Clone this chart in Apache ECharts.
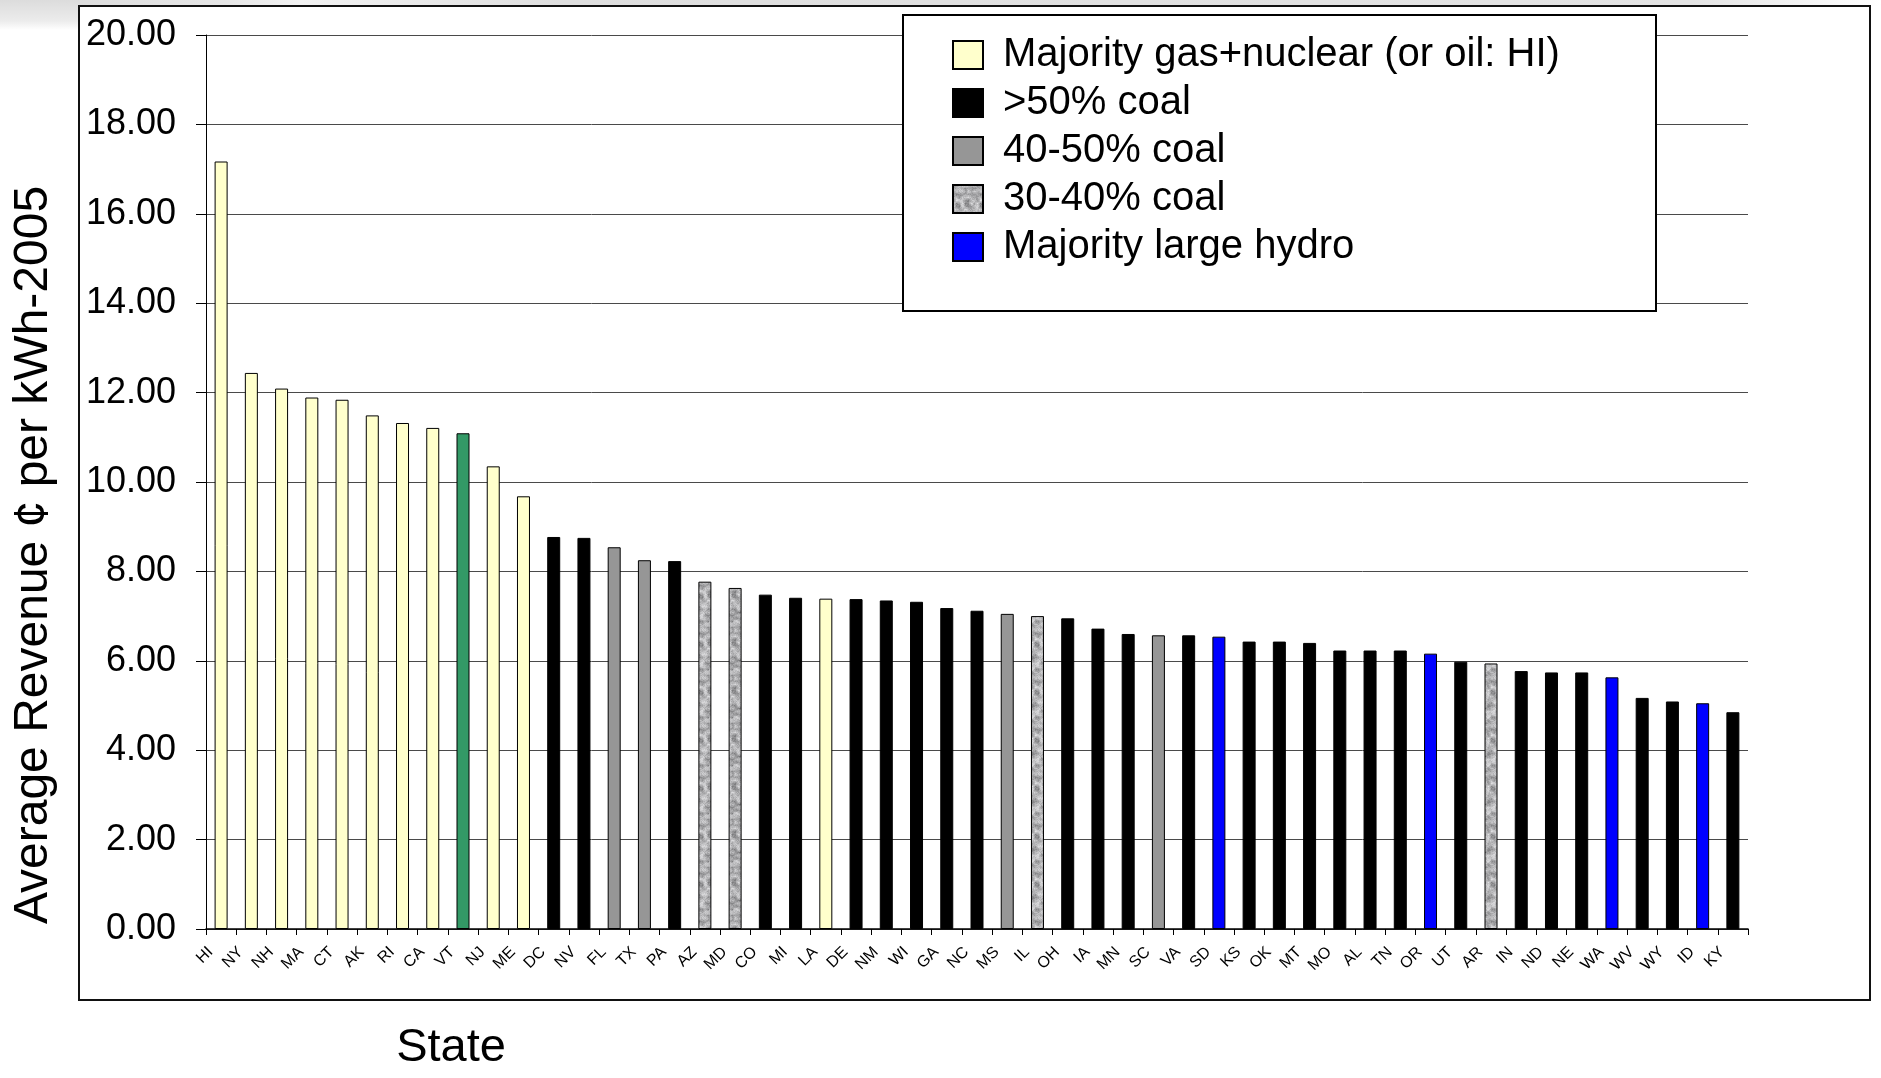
<!DOCTYPE html>
<html>
<head>
<meta charset="utf-8">
<title>Average Revenue by State</title>
<script src="https://cdn.jsdelivr.net/npm/echarts@6/dist/echarts.min.js"></script>
<style>
  html, body { margin: 0; padding: 0; background: #ffffff; }
  #chart { width: 1881px; height: 1078px; }
</style>
</head>
<body>
<div id="chart"></div>
<script>
// States, ordered by average revenue (cents per kWh, 2005)
const states = ['HI','NY','NH','MA','CT','AK','RI','CA','VT','NJ','ME','DC','NV','FL','TX','PA','AZ','MD','CO','MI','LA',
  'DE','NM','WI','GA','NC','MS','IL','OH','IA','MN','SC','VA','SD','KS','OK','MT','MO','AL','TN','OR',
  'UT','AR','IN','ND','NE','WA','WV','WY','ID','KY'];

const revenue = [17.17,12.44,12.09,11.89,11.84,11.49,11.32,11.21,11.09,10.35,9.68,
  8.77,8.75,8.54,8.25,8.23,7.77,7.63,7.48,7.41,7.39,
  7.38,7.35,7.32,7.18,7.12,7.05,7.00,6.95,6.72,6.60,
  6.57,6.57,6.54,6.43,6.43,6.40,6.23,6.23,6.23,6.16,
  5.98,5.94,5.77,5.74,5.74,5.63,5.17,5.09,5.05,4.85];

// Generation-mix class of each state
const mix = ['gas','gas','gas','gas','gas','gas','gas','gas','other','gas','gas',
  'coal50','coal50','coal40','coal40','coal50','coal30','coal30','coal50','coal50','gas',
  'coal50','coal50','coal50','coal50','coal50','coal40','coal30','coal50','coal50','coal50',
  'coal40','coal50','hydro','coal50','coal50','coal50','coal50','coal50','coal50','hydro',
  'coal50','coal30','coal50','coal50','coal50','hydro','coal50','coal50','hydro','coal50'];

// Legend classes
const mixKeys = ['gas','coal50','coal40','coal30','hydro','other'];
const mixNames = ['Majority gas+nuclear (or oil: HI)','>50% coal','40-50% coal','30-40% coal','Majority large hydro','Nuclear + hydro'];

// Value-axis tick labels
const yTicks = ['0.00','2.00','4.00','6.00','8.00','10.00','12.00','14.00','16.00','18.00','20.00'];

// Grey granite texture for the 30-40% coal bars
function hash(x, y) {
  let n = Math.imul(x, 374761393) + Math.imul(y, 668265263);
  n = Math.imul(n ^ (n >>> 13), 1274126177);
  return ((n ^ (n >>> 16)) >>> 0) / 4294967295;
}
function makeGranite() {
  const w = 24, h = 48, cell = 3;
  const c = document.createElement('canvas');
  c.width = w; c.height = h;
  const ctx = c.getContext('2d');
  const img = ctx.createImageData(w, h);
  const gw = w / cell, gh = h / cell;
  const coarse = (i, j) => hash(((i % gw) + gw) % gw, ((j % gh) + gh) % gh + 101);
  for (let y = 0; y < h; y++) {
    for (let x = 0; x < w; x++) {
      const fx = x / cell, fy = y / cell;
      const i = Math.floor(fx), j = Math.floor(fy);
      const tx = fx - i, ty = fy - j;
      const a = coarse(i, j), b = coarse(i + 1, j), cc = coarse(i, j + 1), d = coarse(i + 1, j + 1);
      const v = (a * (1 - tx) + b * tx) * (1 - ty) + (cc * (1 - tx) + d * tx) * ty;
      const f = hash(x, y);
      let g = 215 - 80 * Math.pow(v, 1.6) - 30 * f + 10;
      g = Math.max(90, Math.min(240, g));
      const k = (y * w + x) * 4;
      img.data[k] = g; img.data[k + 1] = g; img.data[k + 2] = g + 2; img.data[k + 3] = 255;
    }
  }
  ctx.putImageData(img, 0, 0);
  return c;
}

const fills = {
  gas: '#ffffcc',
  coal50: '#000000',
  coal40: '#969696',
  coal30: { image: makeGranite(), repeat: 'repeat' },
  hydro: '#0000ff',
  other: '#339966'
};

const series = mixKeys.map((key, idx) => ({
  name: mixNames[idx],
  type: 'bar',
  barWidth: 13,
  barGap: '-100%',
  data: revenue.map((v, i) => (mix[i] === key ? v : '-')),
  itemStyle: { color: fills[key], borderColor: '#000000', borderWidth: 1 },
  emphasis: { disabled: true },
  animation: false
}));

const chart = echarts.init(document.getElementById('chart'), null, { renderer: 'canvas' });
const fontFamily = '"Liberation Sans", Arial, Helvetica, sans-serif';

chart.setOption({
  animation: false,
  backgroundColor: '#ffffff',
  textStyle: { fontFamily: fontFamily, color: '#000' },
  graphic: [
    {
      type: 'rect', silent: true, z: -10,
      shape: { x: 0, y: 0, width: 1881, height: 6 },
      style: { fill: new echarts.graphic.LinearGradient(0, 0, 1, 0, [
        { offset: 0, color: '#d9d9d9' }, { offset: 0.12, color: '#e6e6e6' },
        { offset: 0.16, color: '#f2f2f2' }, { offset: 0.3, color: '#dedede' },
        { offset: 0.9, color: '#e4e4e4' }, { offset: 1, color: '#ffffff' }]) }
    },
    {
      type: 'rect', silent: true, z: -10,
      shape: { x: 0, y: 0, width: 79, height: 30 },
      style: { fill: new echarts.graphic.LinearGradient(0, 0, 0, 1, [
        { offset: 0, color: '#dcdcdc' }, { offset: 0.7, color: '#ececec' }, { offset: 1, color: '#ffffff' }]) }
    },
    {
      type: 'rect', silent: true, z: 1,
      shape: { x: 79, y: 6, width: 1791, height: 994 },
      style: { fill: null, stroke: '#111', lineWidth: 2 }
    },
    {
      type: 'rect', silent: true, z: 5,
      shape: { x: 903, y: 15, width: 753, height: 296 },
      style: { fill: '#ffffff', stroke: '#000', lineWidth: 2 }
    },
    {
      type: 'text', silent: true, z: 5,
      x: 34, y: 555, rotation: Math.PI / 2,
      style: { text: 'Average Revenue \u00a2 per kWh-2005', x: 0, y: 0, align: 'center', verticalAlign: 'middle',
        font: '48px ' + fontFamily, fill: '#000' }
    },
    {
      type: 'text', silent: true, z: 5,
      style: { text: 'State', x: 451, y: 1048, align: 'center', verticalAlign: 'middle',
        font: '47px ' + fontFamily, fill: '#000' }
    }
  ],
  legend: {
    show: true,
    orient: 'vertical',
    left: 952,
    top: 34,
    z: 10,
    padding: 0,
    itemWidth: 30,
    itemHeight: 28,
    itemGap: 6,
    icon: 'rect',
    selectedMode: false,
    data: mixNames.slice(0, 5),
    textStyle: { fontSize: 40, lineHeight: 42, color: '#000', fontFamily: fontFamily, padding: [0, 0, 0, 15] }
  },
  grid: { left: 206, right: 133, top: 35, bottom: 149, containLabel: false },
  xAxis: {
    type: 'category',
    data: states,
    boundaryGap: true,
    axisLine: { lineStyle: { color: '#000', width: 1.5 } },
    axisTick: { show: true, length: 6, lineStyle: { color: '#000' } },
    axisLabel: {
      show: true, rotate: 45, color: '#000', margin: 10, interval: 0,
      fontSize: 16, fontFamily: fontFamily, padding: [0, 15, 0, 0]
    }
  },
  yAxis: {
    type: 'value',
    min: Number(yTicks[0]),
    max: Number(yTicks[yTicks.length - 1]),
    interval: Number(yTicks[1]) - Number(yTicks[0]),
    axisLine: { show: true, lineStyle: { color: '#000', width: 1 } },
    axisTick: { show: true, length: 10, lineStyle: { color: '#000' } },
    axisLabel: {
      fontSize: 36, color: '#000', margin: 30, fontFamily: fontFamily,
      formatter: (v) => yTicks[Math.round(v / (Number(yTicks[1]) - Number(yTicks[0])))]
    },
    splitLine: { show: true, lineStyle: { color: '#4a4a4a', width: 1 } }
  },
  series: series
});
</script>
</body>
</html>
